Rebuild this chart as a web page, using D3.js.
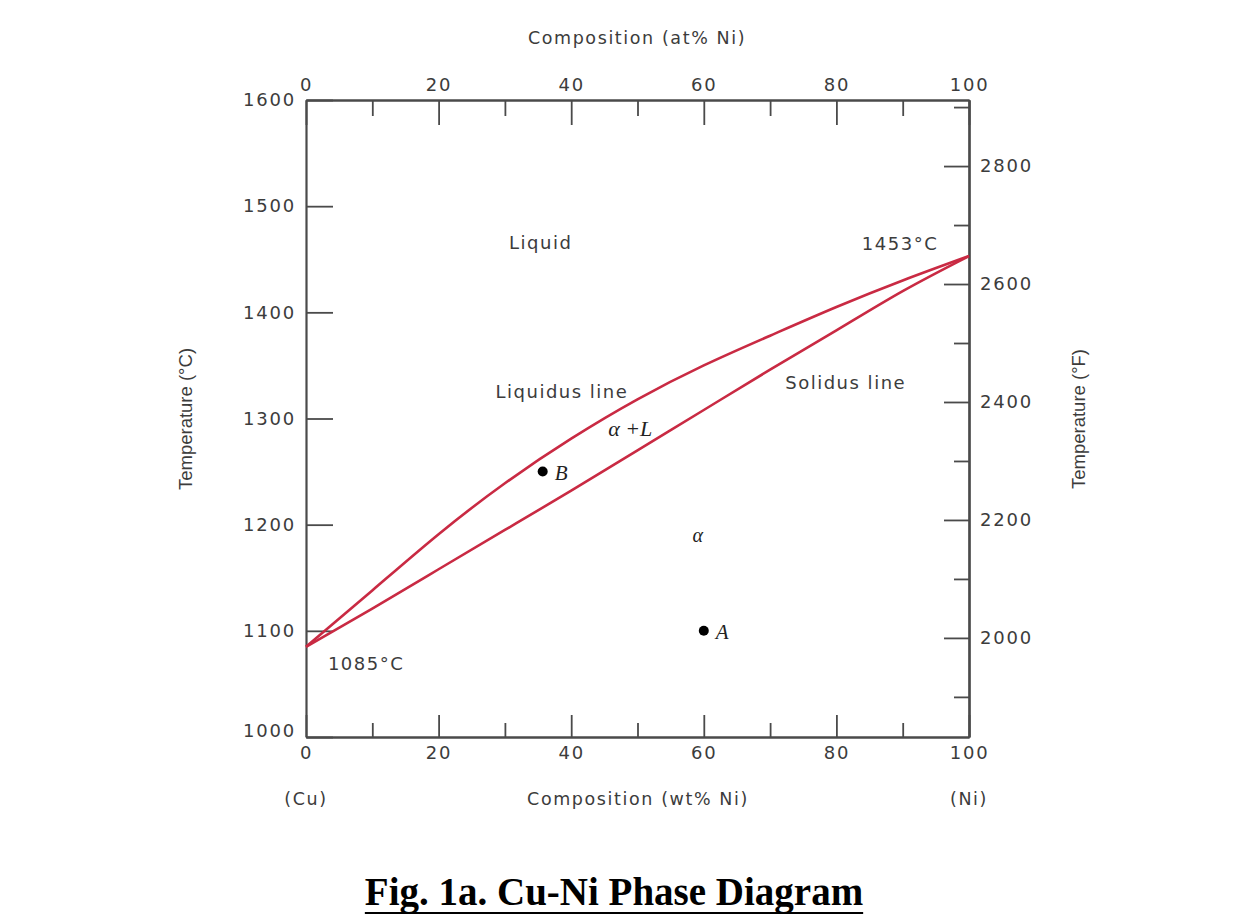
<!DOCTYPE html>
<html>
<head>
<meta charset="utf-8">
<script src="https://cdn.jsdelivr.net/npm/d3@7"></script>
<style>
  html, body { margin: 0; padding: 0; background: #fff; }
  svg { display: block; }
  .tick text { font-family: "DejaVu Sans", sans-serif; }
</style>
</head>
<body>
<svg id="chart" width="1242" height="924"></svg>
<script>
// ---------- data ----------
const composition = [0, 10, 20, 30, 40, 50, 60, 70, 80, 90, 100];           // wt% Ni
const liquidus    = [1085, 1138, 1191, 1239, 1281, 1318, 1350, 1378, 1405, 1430, 1453]; // °C
const solidus     = [1085, 1121, 1158, 1195, 1232, 1270, 1308, 1346, 1383, 1420, 1453]; // °C
const wtMajorTicks = [0, 20, 40, 60, 80, 100];
const wtMinorTicks = [10, 30, 50, 70, 90];
const atMajorTicks = [0, 20, 40, 60, 80, 100];
const atMinorTicks = [10, 30, 50, 70, 90];
const tempCTicks = [1000, 1100, 1200, 1300, 1400, 1500, 1600];
const tempFMajorTicks = [2000, 2200, 2400, 2600, 2800];
const tempFMinorTicks = [1900, 2100, 2300, 2500, 2700, 2900];
const pointLabels = ["A", "B"];
const pointWt = [60, 35.7];
const pointTemp = [1100, 1250];

// ---------- layout ----------
const svg = d3.select("#chart");
const X0 = 306, X1 = 969, Y0 = 737, Y1 = 100;
const x = d3.scaleLinear().domain([0, 100]).range([X0, X1]);
const xAt = d3.scaleLinear().domain([0, 100]).range([X0, X1]);
const y = d3.scaleLinear().domain([1000, 1600]).range([Y0, Y1]);
const yF = d3.scaleLinear().domain([1000 * 9 / 5 + 32, 1600 * 9 / 5 + 32]).range([Y0, Y1]);
const fmt = d3.format("d");

const axisColor = "#4a4a4a";
const textColor = "#3c3c3c";
const curveColor = "#c92a43";

svg.append("rect").attr("width", 1242).attr("height", 924).attr("fill", "#fff");

function styleAxis(g, showText) {
  g.selectAll(".domain").attr("stroke", axisColor).attr("stroke-width", 2.2);
  g.selectAll(".tick line").attr("stroke", axisColor).attr("stroke-width", 1.8);
  g.selectAll(".tick text")
    .attr("fill", textColor)
    .style("font-size", "18px")
    .style("letter-spacing", "1.8px")
    .style("display", showText ? null : "none");
}

// bottom axis (wt% Ni)
svg.append("g").attr("transform", `translate(0,${Y0})`)
  .call(d3.axisBottom(x).tickValues(wtMinorTicks).tickSize(-14).tickSizeOuter(0).tickFormat(""))
  .call(g => styleAxis(g, false));
svg.append("g").attr("transform", `translate(0,${Y0})`)
  .call(d3.axisBottom(x).tickValues(wtMajorTicks).tickSize(-22).tickSizeOuter(0).tickPadding(9).tickFormat(fmt))
  .call(g => styleAxis(g, true));

// top axis (at% Ni)
svg.append("g").attr("transform", `translate(0,${Y1})`)
  .call(d3.axisTop(xAt).tickValues(atMinorTicks).tickSize(-16).tickSizeOuter(0).tickFormat(""))
  .call(g => styleAxis(g, false));
svg.append("g").attr("transform", `translate(0,${Y1})`)
  .call(d3.axisTop(xAt).tickValues(atMajorTicks).tickSize(-25).tickSizeOuter(0).tickPadding(9).tickFormat(fmt))
  .call(g => styleAxis(g, true));

// left axis (°C)
const leftAxis = svg.append("g").attr("transform", `translate(${X0},0)`)
  .call(d3.axisLeft(y).tickValues(tempCTicks).tickSize(-27).tickSizeOuter(0).tickPadding(10).tickFormat(fmt))
  .call(g => styleAxis(g, true));
leftAxis.selectAll(".tick").filter(d => d === 1000).select("text").attr("dy", "-0.05em");

// right axis (°F)
svg.append("g").attr("transform", `translate(${X1},0)`)
  .call(d3.axisRight(yF).tickValues(tempFMinorTicks).tickSize(-15).tickSizeOuter(0).tickFormat(""))
  .call(g => styleAxis(g, false));
svg.append("g").attr("transform", `translate(${X1},0)`)
  .call(d3.axisRight(yF).tickValues(tempFMajorTicks).tickSize(-25).tickSizeOuter(0).tickPadding(11).tickFormat(fmt))
  .call(g => styleAxis(g, true));

// ---------- curves ----------
const line = d3.line().curve(d3.curveNatural);
svg.append("path")
  .attr("d", line(composition.map((c, i) => [x(c), y(liquidus[i])])))
  .attr("fill", "none").attr("stroke", curveColor).attr("stroke-width", 2.6);
svg.append("path")
  .attr("d", line(composition.map((c, i) => [x(c), y(solidus[i])])))
  .attr("fill", "none").attr("stroke", curveColor).attr("stroke-width", 2.6);

// ---------- points ----------
pointLabels.forEach((lab, i) => {
  svg.append("circle").attr("cx", x(pointWt[i])).attr("cy", y(pointTemp[i]))
    .attr("r", 5).attr("fill", "#000");
  svg.append("text").attr("x", x(pointWt[i]) + 12).attr("y", y(pointTemp[i]) + 8)
    .attr("font-family", "Liberation Serif, serif").attr("font-style", "italic")
    .attr("font-size", 21).attr("fill", "#222").text(lab);
});

// ---------- annotations ----------
function sansLabel(tx, ty, str, anchor) {
  svg.append("text").attr("x", tx).attr("y", ty)
    .attr("text-anchor", anchor || "middle").attr("dominant-baseline", "central")
    .attr("font-family", "DejaVu Sans, sans-serif").attr("font-size", 18)
    .style("letter-spacing", "1.5px")
    .attr("fill", textColor).text(str);
}
sansLabel(x(35.4), y(1466), "Liquid");
sansLabel(x(89.6), y(1465), "1453°C");
sansLabel(x(38.6), y(1325), "Liquidus line");
sansLabel(x(81.4), y(1334), "Solidus line");
sansLabel(x(3.3), y(1069), "1085°C", "start");

function greekLabel(tx, ty, str, size) {
  svg.append("text").attr("x", tx).attr("y", ty)
    .attr("text-anchor", "middle").attr("dominant-baseline", "central")
    .attr("font-family", "Liberation Serif, serif").attr("font-style", "italic")
    .attr("font-size", size).attr("fill", "#222").text(str);
}
greekLabel(x(48.9), y(1291), "α +L", 22);
greekLabel(x(59.1), y(1190), "α", 20);

// axis titles
function axisTitle(tx, ty, str, rotate) {
  const t = svg.append("text")
    .attr("text-anchor", "middle").attr("dominant-baseline", "central")
    .attr("fill", textColor).text(str);
  if (rotate) {
    t.attr("transform", `translate(${tx},${ty}) rotate(-90)`)
     .attr("font-family", "Liberation Sans, Arial, sans-serif").attr("font-size", 18.5);
  } else {
    t.attr("x", tx).attr("y", ty).style("letter-spacing", "1.6px")
     .attr("font-family", "DejaVu Sans, sans-serif").attr("font-size", 17.5);
  }
  return t;
}
axisTitle(637, 38, "Composition (at% Ni)");
axisTitle(638, 799, "Composition (wt% Ni)");
axisTitle(306, 799, "(Cu)");
axisTitle(969, 799, "(Ni)");
axisTitle(185, 419, "Temperature (°C)", true);
axisTitle(1078, 419, "Temperature (°F)", true);

// ---------- caption ----------
const cap = svg.append("text").attr("x", 614).attr("y", 905)
  .attr("text-anchor", "middle")
  .attr("font-family", "Liberation Serif, 'Times New Roman', serif")
  .attr("font-weight", "bold").attr("font-size", 39)
  .attr("fill", "#000").text("Fig. 1a. Cu-Ni Phase Diagram");
const w = cap.node().getComputedTextLength();
svg.append("line").attr("x1", 614 - w / 2).attr("x2", 614 + w / 2)
  .attr("y1", 913).attr("y2", 913).attr("stroke", "#000").attr("stroke-width", 2);
</script>
</body>
</html>
